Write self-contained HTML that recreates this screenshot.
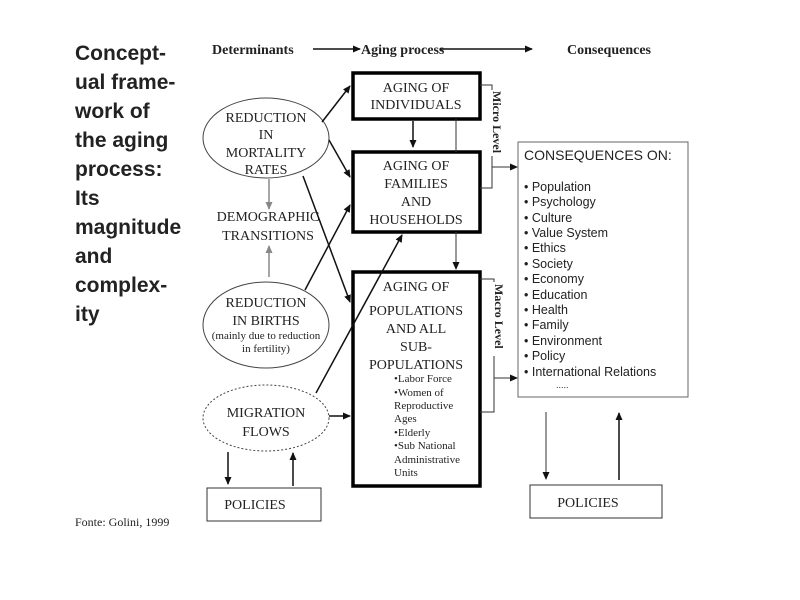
<!DOCTYPE html>
<html><head><meta charset="utf-8"><style>
body{margin:0;background:#fff;width:800px;height:600px;overflow:hidden}
svg{position:absolute;left:0;top:0}
.s{font-family:"Liberation Serif",serif;fill:#222}
.a{font-family:"Liberation Sans",sans-serif;fill:#222}
</style></head><body>
<svg width="800" height="600" viewBox="0 0 800 600">
<defs><marker id="m" markerWidth="8" markerHeight="8" refX="7" refY="4" orient="auto" markerUnits="userSpaceOnUse"><path d="M0,0.5 L8,4 L0,7.5z" fill="#111"/></marker>
<marker id="g" markerWidth="8" markerHeight="8" refX="7" refY="4" orient="auto" markerUnits="userSpaceOnUse"><path d="M0,0.5 L8,4 L0,7.5z" fill="#888"/></marker></defs>
<g class="a" font-size="21" font-weight="bold" fill="#000">
<text x="75" y="60">Concept-</text><text x="75" y="89">ual frame-</text><text x="75" y="118">work of</text><text x="75" y="147">the aging</text><text x="75" y="176">process:</text><text x="75" y="205">Its</text><text x="75" y="234">magnitude</text><text x="75" y="263">and</text><text x="75" y="292">complex-</text><text x="75" y="321">ity</text></g>
<g class="s" font-size="14" font-weight="bold"><text x="212" y="54">Determinants</text><text x="361" y="54">Aging process</text><text x="567" y="54">Consequences</text></g>
<g stroke="#111" stroke-width="1.5" fill="none">
<line x1="313" y1="49" x2="360" y2="49" marker-end="url(#m)"/><line x1="440" y1="49" x2="532" y2="49" marker-end="url(#m)"/></g>
<g stroke="#000" stroke-width="3.5" fill="#fff">
<rect x="353" y="73" width="127" height="46"/><rect x="353" y="152" width="127" height="80"/><rect x="353" y="272" width="127" height="214"/></g>
<g class="s" font-size="14" text-anchor="middle">
<text x="416" y="92">AGING OF</text><text x="416" y="109">INDIVIDUALS</text>
<text x="416" y="170">AGING OF</text><text x="416" y="188">FAMILIES</text><text x="416" y="206">AND</text><text x="416" y="224">HOUSEHOLDS</text>
<text x="416" y="291">AGING OF</text><text x="416" y="315">POPULATIONS</text><text x="416" y="333">AND ALL</text><text x="416" y="351">SUB-</text><text x="416" y="369">POPULATIONS</text></g>
<g class="s" font-size="11"><text x="394" y="382">•Labor Force</text><text x="394" y="396">•Women of</text><text x="394" y="409">Reproductive</text><text x="394" y="422">Ages</text><text x="394" y="436">•Elderly</text><text x="394" y="449">•Sub National</text><text x="394" y="463">Administrative</text><text x="394" y="476">Units</text></g>
<g fill="#fff" stroke="#444" stroke-width="1"><ellipse cx="266" cy="138" rx="63" ry="40"/><ellipse cx="266" cy="325" rx="63" ry="43"/><ellipse cx="266" cy="418" rx="63" ry="33" stroke-dasharray="2,2"/></g>
<g class="s" font-size="14" text-anchor="middle">
<text x="266" y="122">REDUCTION</text><text x="266" y="139">IN</text><text x="266" y="157">MORTALITY</text><text x="266" y="174">RATES</text>
<text x="268" y="221">DEMOGRAPHIC</text><text x="268" y="240">TRANSITIONS</text>
<text x="266" y="307">REDUCTION</text><text x="266" y="325">IN BIRTHS</text>
<text x="266" y="417">MIGRATION</text><text x="266" y="436">FLOWS</text></g>
<g class="s" font-size="11" text-anchor="middle"><text x="266" y="339">(mainly due to reduction</text><text x="266" y="352">in fertility)</text></g>
<g stroke="#111" stroke-width="1.5" fill="none">
<line x1="322" y1="122" x2="350" y2="86" marker-end="url(#m)"/>
<line x1="329" y1="140" x2="350" y2="177" marker-end="url(#m)"/>
<line x1="303" y1="176" x2="350" y2="302" marker-end="url(#m)"/>
<line x1="305" y1="290" x2="350" y2="205" marker-end="url(#m)"/>
<line x1="316" y1="393" x2="402" y2="235" marker-end="url(#m)"/>
<line x1="329" y1="416" x2="350" y2="416" marker-end="url(#m)"/>
<line x1="413" y1="121" x2="413" y2="147" marker-end="url(#m)"/>
<line x1="228" y1="452" x2="228" y2="484" marker-end="url(#m)"/>
<line x1="293" y1="486" x2="293" y2="453" marker-end="url(#m)"/>
<line x1="619" y1="480" x2="619" y2="413" marker-end="url(#m)"/>
</g>
<g stroke="#333" stroke-width="1" fill="none">
<line x1="456" y1="119" x2="456" y2="152"/>
<line x1="456" y1="232" x2="456" y2="269" marker-end="url(#m)"/>
<line x1="546" y1="412" x2="546" y2="479" marker-end="url(#m)"/>
<polyline points="480,85 492,85 492,188 480,188"/><line x1="492" y1="167" x2="517" y2="167" marker-end="url(#m)"/>
<polyline points="480,279 494,279 494,412 480,412"/><line x1="494" y1="378" x2="517" y2="378" marker-end="url(#m)"/>
</g>
<g stroke="#888" stroke-width="1.5"><line x1="269" y1="179" x2="269" y2="209" marker-end="url(#g)"/><line x1="269" y1="277" x2="269" y2="246" marker-end="url(#g)"/></g>
<rect x="489" y="90" width="14" height="66" fill="#fff"/><rect x="491" y="282" width="14" height="74" fill="#fff"/>
<text class="s" font-size="12" font-weight="bold" transform="translate(493,91) rotate(90)">Micro Level</text>
<text class="s" font-size="12" font-weight="bold" transform="translate(495,284) rotate(90)">Macro Level</text>
<rect x="518" y="142" width="170" height="255" fill="#fff" stroke="#666" stroke-width="1"/>
<g class="a" font-size="12.5"><text x="524" y="160" font-size="14">CONSEQUENCES ON:</text>
<g><text x="524" y="191">•  Population</text><text x="524" y="206">•  Psychology</text><text x="524" y="222">•  Culture</text><text x="524" y="237">•  Value System</text><text x="524" y="252">•  Ethics</text><text x="524" y="268">•  Society</text><text x="524" y="283">•  Economy</text><text x="524" y="299">•  Education</text><text x="524" y="314">•  Health</text><text x="524" y="329">•  Family</text><text x="524" y="345">•  Environment</text><text x="524" y="360">•  Policy</text><text x="524" y="376">•  International Relations</text><text x="556" y="388" font-size="9">.....</text></g></g>
<rect x="207" y="488" width="114" height="33" fill="#fff" stroke="#333"/>
<rect x="530" y="485" width="132" height="33" fill="#fff" stroke="#333"/>
<g class="s" font-size="14" text-anchor="middle"><text x="255" y="509">POLICIES</text><text x="588" y="507">POLICIES</text></g>
<text class="s" x="75" y="526" font-size="12">Fonte: Golini, 1999</text>
</svg></body></html>
